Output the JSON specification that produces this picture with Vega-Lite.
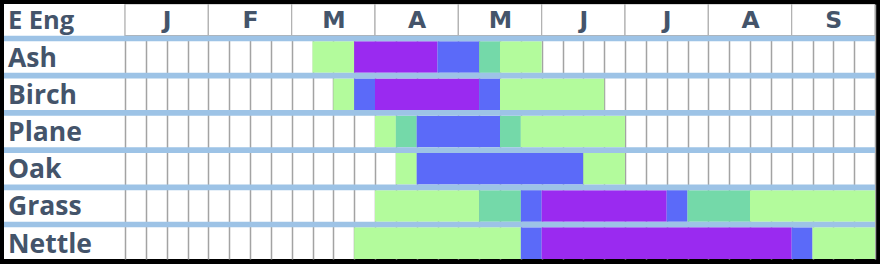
{
  "$schema": "https://vega.github.io/schema/vega-lite/v6.json",
  "width": 871,
  "height": 255,
  "autosize": {"type": "none"},
  "padding": {"left": 4, "top": 4, "right": 5, "bottom": 5},
  "background": "black",
  "config": {"view": {"fill": "white", "stroke": null}},
  "datasets": {
    "runs": [
      {"plant": "Ash", "start": 9, "end": 11, "level": "Low"},
      {"plant": "Ash", "start": 11, "end": 15, "level": "Very high"},
      {"plant": "Ash", "start": 15, "end": 17, "level": "High"},
      {"plant": "Ash", "start": 17, "end": 18, "level": "Moderate"},
      {"plant": "Ash", "start": 18, "end": 20, "level": "Low"},
      {"plant": "Birch", "start": 10, "end": 11, "level": "Low"},
      {"plant": "Birch", "start": 11, "end": 12, "level": "High"},
      {"plant": "Birch", "start": 12, "end": 17, "level": "Very high"},
      {"plant": "Birch", "start": 17, "end": 18, "level": "High"},
      {"plant": "Birch", "start": 18, "end": 23, "level": "Low"},
      {"plant": "Plane", "start": 12, "end": 13, "level": "Low"},
      {"plant": "Plane", "start": 13, "end": 14, "level": "Moderate"},
      {"plant": "Plane", "start": 14, "end": 18, "level": "High"},
      {"plant": "Plane", "start": 18, "end": 19, "level": "Moderate"},
      {"plant": "Plane", "start": 19, "end": 24, "level": "Low"},
      {"plant": "Oak", "start": 13, "end": 14, "level": "Low"},
      {"plant": "Oak", "start": 14, "end": 22, "level": "High"},
      {"plant": "Oak", "start": 22, "end": 24, "level": "Low"},
      {"plant": "Grass", "start": 12, "end": 17, "level": "Low"},
      {"plant": "Grass", "start": 17, "end": 19, "level": "Moderate"},
      {"plant": "Grass", "start": 19, "end": 20, "level": "High"},
      {"plant": "Grass", "start": 20, "end": 26, "level": "Very high"},
      {"plant": "Grass", "start": 26, "end": 27, "level": "High"},
      {"plant": "Grass", "start": 27, "end": 30, "level": "Moderate"},
      {"plant": "Grass", "start": 30, "end": 36, "level": "Low"},
      {"plant": "Nettle", "start": 11, "end": 19, "level": "Low"},
      {"plant": "Nettle", "start": 19, "end": 20, "level": "High"},
      {"plant": "Nettle", "start": 20, "end": 32, "level": "Very high"},
      {"plant": "Nettle", "start": 32, "end": 33, "level": "High"},
      {"plant": "Nettle", "start": 33, "end": 36, "level": "Low"}
    ],
    "months": [
      {"month": "Jan", "start": 0, "end": 4},
      {"month": "Feb", "start": 4, "end": 8},
      {"month": "Mar", "start": 8, "end": 12},
      {"month": "Apr", "start": 12, "end": 16},
      {"month": "May", "start": 16, "end": 20},
      {"month": "Jun", "start": 20, "end": 24},
      {"month": "Jul", "start": 24, "end": 28},
      {"month": "Aug", "start": 28, "end": 32},
      {"month": "Sep", "start": 32, "end": 36}
    ],
    "rows": [
      {"plant": "Ash"},
      {"plant": "Birch"},
      {"plant": "Plane"},
      {"plant": "Oak"},
      {"plant": "Grass"},
      {"plant": "Nettle"}
    ],
    "corner": [
      {"plant": "E Eng"}
    ]
  },
  "resolve": {"axis": {"x": "independent"}},
  "layer": [
    {
      "data": {"name": "runs"},
      "mark": {"type": "rect"},
      "encoding": {
        "x": {
          "field": "start",
          "type": "quantitative",
          "scale": {"domain": [-5.808, 36], "nice": false, "zero": false},
          "axis": {
            "orient": "bottom",
            "values": [0,1,2,3,4,5,6,7,8,9,10,11,12,13,14,15,16,17,18,19,20,21,22,23,24,25,26,27,28,29,30,31,32,33,34,35,36],
            "labels": false, "ticks": false, "domain": false, "title": null,
            "grid": true, "gridColor": "#A3A3A3", "gridWidth": 1.5
          }
        },
        "x2": {"field": "end"},
        "y": {
          "field": "plant",
          "type": "nominal",
          "scale": {
            "domain": ["E Eng", "Ash", "Birch", "Plane", "Oak", "Grass", "Nettle"],
            "paddingInner": 0.15,
            "paddingOuter": 0
          },
          "axis": {
            "orient": "left",
            "offset": -3.5,
            "domain": false,
            "ticks": false,
            "tickSize": 0,
            "grid": false,
            "title": null,
            "labelExpr": "datum.value === 'E Eng' ? '' : datum.label",
            "labelAlign": "left",
            "labelBaseline": "middle",
            "labelOffset": 1.5,
            "labelPadding": 0,
            "labelLimit": 0,
            "labelColor": "#44546A",
            "labelFont": "Open Sans",
            "labelFontWeight": "bold",
            "labelFontSize": 26.5,
            "zindex": 1
          }
        },
        "color": {
          "field": "level",
          "type": "nominal",
          "scale": {
            "domain": ["Low", "Moderate", "High", "Very high"],
            "range": ["#B3FB9C", "#74D9A9", "#5B6AF9", "#9A2AF0"]
          },
          "legend": null
        }
      }
    },
    {
      "data": {"name": "months"},
      "mark": {"type": "rect", "fill": "white", "stroke": "#B0B0B0", "strokeWidth": 1.2, "clip": true},
      "encoding": {
        "x": {
          "field": "start",
          "type": "quantitative",
          "axis": {
            "orient": "top",
            "values": [2, 6, 10, 14, 18, 22, 26, 30, 34],
            "labelExpr": "['J','F','M','A','M','J','J','A','S'][round((datum.value - 2) / 4)]",
            "offset": -16.3,
            "labels": true, "ticks": false, "tickSize": 0, "domain": false, "grid": false, "title": null,
            "labelPadding": 0,
            "labelBaseline": "middle",
            "labelAlign": "center",
            "labelFont": "Verdana, 'DejaVu Sans', DejaVuSans, sans-serif",
            "labelFontWeight": "bold",
            "labelFontSize": 23.5,
            "labelColor": "#44546A",
            "labelFlush": false,
            "labelOverlap": false,
            "zindex": 1
          }
        },
        "x2": {"field": "end"},
        "y": {"datum": "E Eng", "type": "nominal"}
      }
    },
    {
      "data": {"name": "corner"},
      "mark": {"type": "text", "font": "Open Sans", "fontWeight": "bold", "fontSize": 25.5, "color": "#44546A", "align": "left", "baseline": "middle", "dy": 1},
      "encoding": {
        "x": {"datum": -5.62, "type": "quantitative", "axis": null},
        "y": {"field": "plant", "type": "nominal"},
        "text": {"field": "plant"}
      }
    },
    {
      "data": {"name": "rows"},
      "mark": {"type": "rule", "color": "#9DC3E6", "strokeWidth": 5.6, "yOffset": -2.8},
      "encoding": {
        "y": {"field": "plant", "type": "nominal", "bandPosition": 0}
      }
    }
  ]
}
